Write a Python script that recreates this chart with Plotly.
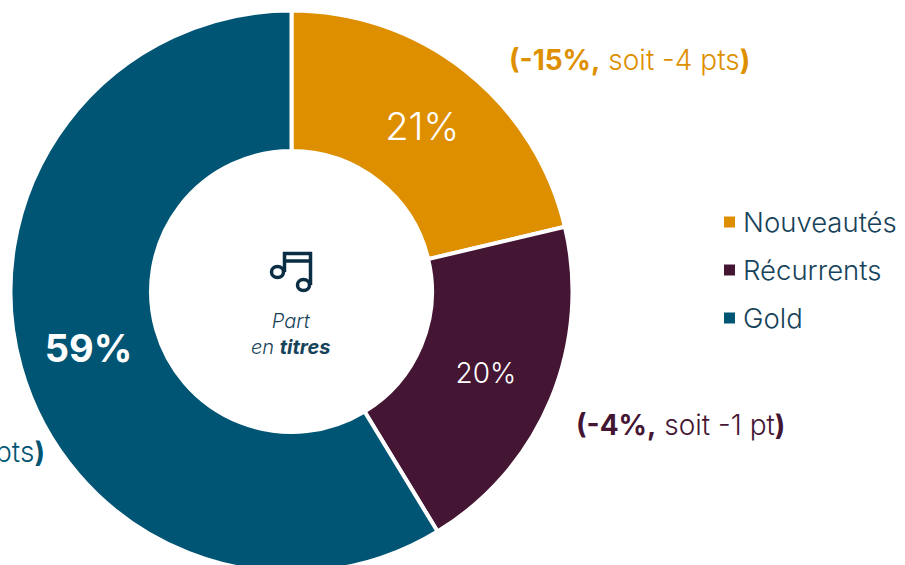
import plotly.graph_objects as go

categories = ["Nouveautés", "Récurrents", "Gold"]
shares = [21.3, 20.0, 58.7]
slice_labels = ["21%", "20%", "<b>59%</b>"]
colors = ["#DE8F00", "#451634", "#005574"]
change_labels = [
    "<b>(-15%,</b> soit -4 pts<b>)</b>",
    "<b>(-4%,</b> soit -1 pt<b>)</b>",
    "<b>(+9%,</b> soit +5 pts<b>)</b>",
]
center_text = "<i>Part<br>en <b>titres</b></i>"

W, H = 905, 585
FONT = "Inter"
TEXT = "#17435A"
ICON = "#0B2E45"


def px(x):
    return x / W


def py(y):
    return 1 - y / H


cx, cy, r = 291.5, 291.5, 281
fig = go.Figure(
    go.Pie(
        labels=categories,
        values=shares,
        text=slice_labels,
        textinfo="text",
        textposition="inside",
        insidetextorientation="horizontal",
        sort=False,
        direction="clockwise",
        rotation=0,
        hole=0.5,
        marker=dict(colors=colors, line=dict(color="white", width=4)),
        insidetextfont=dict(family=FONT, color="white", size=[38, 28, 38], weight=300),
        domain=dict(x=[px(cx - r), px(cx + r)], y=[py(cy + r), py(cy - r)]),
        showlegend=False,
        hoverinfo="label+percent",
    )
)

annotations = [
    dict(x=px(291), y=py(334), text=center_text, showarrow=False, xanchor="center", yanchor="middle",
         font=dict(family=FONT, size=20, color=TEXT, weight=300), align="center"),
    dict(x=px(629), y=py(60), text=change_labels[0], showarrow=False, xanchor="center", yanchor="middle",
         font=dict(family=FONT, size=28, color=colors[0], weight=300)),
    dict(x=px(680.5), y=py(425), text=change_labels[1], showarrow=False, xanchor="center", yanchor="middle",
         font=dict(family=FONT, size=28, color=colors[1], weight=300)),
    dict(x=px(47), y=py(452), text=change_labels[2], showarrow=False, xanchor="right", yanchor="middle",
         font=dict(family=FONT, size=28, color=colors[2], weight=300)),
]
shapes = []
legend_y = [222, 270, 318]
for name, color, y in zip(categories, colors, legend_y):
    annotations.append(dict(x=px(741), y=py(y), text=name, showarrow=False, xanchor="left", yanchor="middle",
                            font=dict(family=FONT, size=27.5, color=TEXT, weight=300)))
    shapes.append(dict(type="rect", xref="paper", yref="paper",
                       x0=px(724), x1=px(735), y0=py(y + 5.5), y1=py(y - 5.5),
                       fillcolor=color, line=dict(width=0)))


def path(points):
    return "M " + " L ".join(f"{px(x)} {py(y)}" for x, y in points)


icon_line = dict(color=ICON, width=3.5)
shapes.append(dict(type="path", xref="paper", yref="paper", line=icon_line,
                   path=path([(284.5, 272), (284.5, 253.5), (310.5, 253.5), (310.5, 285)])))
shapes.append(dict(type="path", xref="paper", yref="paper", line=icon_line,
                   path=path([(284.5, 261), (310.5, 261)])))
for x0, y0 in [(271.5, 266.5), (297.5, 279.5)]:
    shapes.append(dict(type="circle", xref="paper", yref="paper", line=icon_line,
                       x0=px(x0), x1=px(x0 + 12), y0=py(y0 + 11), y1=py(y0)))

fig.update_layout(
    width=W, height=H, margin=dict(l=0, r=0, t=0, b=0),
    paper_bgcolor="white", annotations=annotations, shapes=shapes,
)
fig.write_html(
    "out.html",
    config={"displayModeBar": False},
    post_script="document.body.style.margin='0';document.documentElement.style.overflow='hidden';document.body.style.overflow='hidden';",
)
